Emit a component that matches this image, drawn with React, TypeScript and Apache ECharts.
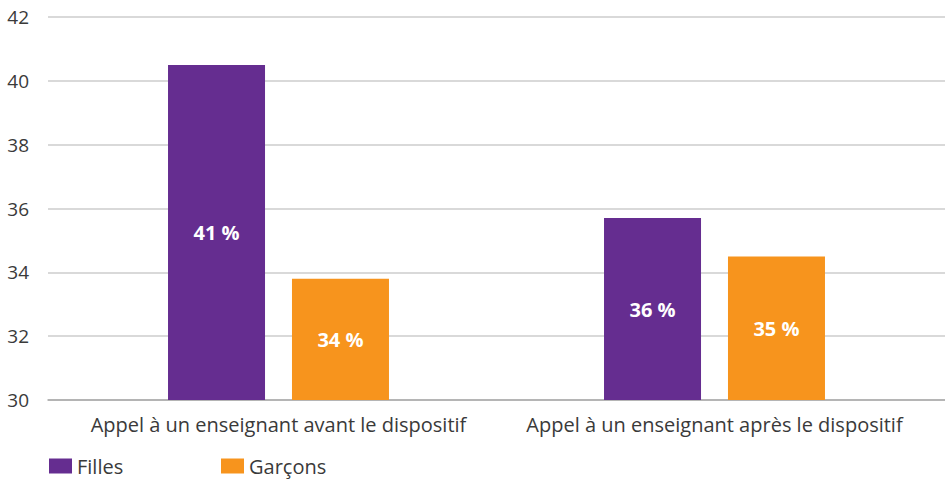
import React, { useEffect, useRef } from "react";
import * as echarts from "echarts";

const categories = [
  "Appel à un enseignant avant le dispositif",
  "Appel à un enseignant après le dispositif",
];
const filles = [40.5, 35.7];
const garcons = [33.8, 34.5];
const yTicks = { min: 30, max: 42, interval: 2 };

const FONT = "Open Sans";
const TEXT = "#3a3a3a";

export default function App() {
  const ref = useRef<HTMLDivElement>(null);
  useEffect(() => {
    if (!ref.current) return;
    const chart = echarts.init(ref.current, undefined, { renderer: "svg" });
    const label = {
      show: true,
      position: "inside",
      color: "#ffffff",
      fontFamily: FONT,
      fontWeight: "bold",
      fontSize: 20,
      formatter: (p: any) => Math.round(p.value) + " %",
    };
    const legendCommon = {
      top: 456,
      itemWidth: 23,
      itemHeight: 15,
      itemGap: 5,
      icon: "rect",
      textStyle: { fontFamily: FONT, fontSize: 20, lineHeight: 15, color: TEXT },
      padding: 0,
    };
    chart.setOption({
      animation: false,
      textStyle: { fontFamily: FONT },
      grid: [
        { left: 48, right: 0, top: 17, bottom: 79 },
        { left: 60.5, right: 12.5, top: 17, bottom: 79 },
      ],
      legend: [
        { ...legendCommon, data: ["Filles"], left: 49 },
        { ...legendCommon, data: ["Garçons"], left: 221 },
      ],
      xAxis: [
        {
          type: "category",
          gridIndex: 0,
          data: categories,
          axisLabel: { show: false },
          axisTick: { show: false },
          axisLine: { show: true, lineStyle: { color: "#a8a8a8", width: 1.5 } },
        },
        {
          type: "category",
          gridIndex: 1,
          data: categories,
          axisTick: { show: false },
          axisLine: { show: false },
          axisLabel: { color: TEXT, fontFamily: FONT, fontSize: 20, margin: 14, interval: 0 },
        },
      ],
      yAxis: [
        {
          type: "value",
          gridIndex: 0,
          ...yTicks,
          axisLabel: { color: TEXT, fontFamily: FONT, fontSize: 19, margin: 19 },
          splitLine: { lineStyle: { color: "#cdcdcd", width: 1.5 } },
          axisLine: { show: false },
          axisTick: { show: false },
        },
        {
          type: "value",
          gridIndex: 1,
          ...yTicks,
          show: false,
          splitLine: { show: false },
        },
      ],
      series: [
        {
          name: "Filles",
          type: "bar",
          xAxisIndex: 1,
          yAxisIndex: 1,
          data: filles,
          barWidth: 97,
          barGap: "27.8%",
          itemStyle: { color: "#652D90" },
          label,
        },
        {
          name: "Garçons",
          type: "bar",
          xAxisIndex: 1,
          yAxisIndex: 1,
          data: garcons,
          barWidth: 97,
          barGap: "27.8%",
          itemStyle: { color: "#F7941D" },
          label,
        },
      ],
    });
    return () => chart.dispose();
  }, []);
  return <div ref={ref} style={{ width: 945, height: 479, position: "absolute", left: 0, top: 0 }} />;
}
